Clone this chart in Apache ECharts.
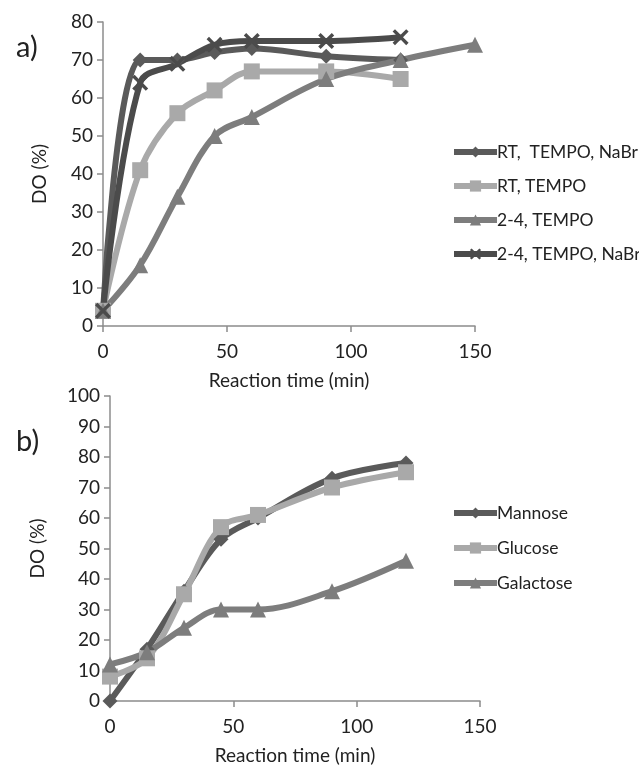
<!DOCTYPE html>
<html><head><meta charset="utf-8">
<script src="https://cdn.jsdelivr.net/npm/echarts@6/dist/echarts.min.js"></script>
<style>html,body{margin:0;padding:0;background:#fff}#c{width:639px;height:766px}</style>
</head><body><div id="c"></div>
<script>
// Chart a
const timeA = [0, 15, 30, 45, 60, 90, 120, 150];
const rtTempoNaBr = [4, 70, 70, 72, 73, 71, 70, null];
const rtTempo = [4, 41, 56, 62, 67, 67, 65, null];
const lowTempo = [4, 16, 34, 50, 55, 65, 70, 74];
const lowTempoNaBr = [4, 64, 69, 74, 75, 75, 76, null];
const namesA = ['RT,  TEMPO, NaBr', 'RT, TEMPO', '2-4, TEMPO', '2-4, TEMPO, NaBr'];
// Chart b
const timeB = [0, 15, 30, 45, 60, 90, 120];
const mannose = [0, 17, 36, 53, 60, 73, 78];
const glucose = [8, 14, 35, 57, 61, 70, 75];
const galactose = [12, 16, 24, 30, 30, 36, 46];
const namesB = ['Mannose', 'Glucose', 'Galactose'];

const cDark = '#5a5a5a', cDarker = '#4b4b4b', cLight = '#a9a9a9', cMid = '#7d7d7d';
const xSym = 'path://M0,1.5L1.5,0L5,3.5L8.5,0L10,1.5L6.5,5L10,8.5L8.5,10L5,6.5L1.5,10L0,8.5L3.5,5Z';
const font = 'Lato';

function pairs(xs, ys) { return xs.map((x, i) => [x, ys[i]]).filter(p => p[1] != null); }
function ser(name, xs, ys, color, symbol, size, idx) {
  return {
    name, type: 'line', xAxisIndex: idx, yAxisIndex: idx,
    data: pairs(xs, ys), smooth: 0.35, symbol, symbolSize: size,
    lineStyle: { color, width: 6 }, itemStyle: { color, borderWidth: 0 },
    emphasis: { disabled: true }
  };
}
function axis(extra) {
  return Object.assign({
    type: 'value',
    axisLine: { show: true, lineStyle: { color: '#8c8c8c', width: 1.5 } },
    axisTick: { show: true, inside: false, length: 6, lineStyle: { color: '#8c8c8c', width: 1.5 } },
    splitLine: { show: false },
    nameLocation: 'middle',
    nameTextStyle: { color: '#222', fontSize: 19, fontFamily: font }
  }, extra);
}
const labX = { color: '#222', fontSize: 19, fontFamily: font, margin: 16 };
const labY = { color: '#222', fontSize: 19, fontFamily: font, margin: 10 };
const chart = echarts.init(document.getElementById('c'), null, { renderer: 'canvas' });
chart.setOption({
  animation: false,
  backgroundColor: '#fff',
  textStyle: { fontFamily: font },
  title: [
    { text: 'a)', left: 11, top: 28, textStyle: { fontSize: 29, fontWeight: 'normal', color: '#222', fontFamily: font } },
    { text: 'b)', left: 11, top: 422, textStyle: { fontSize: 29, fontWeight: 'normal', color: '#222', fontFamily: font } }
  ],
  grid: [
    { left: 103, top: 22, right: 164, bottom: 440 },
    { left: 110, top: 396, right: 159, bottom: 62 }
  ],
  xAxis: [
    axis({ gridIndex: 0, min: 0, max: 150, interval: 50, axisLabel: labX,
      name: 'Reaction time (min)', nameGap: 45 }),
    axis({ gridIndex: 1, min: 0, max: 150, interval: 50, axisLabel: labX,
      name: 'Reaction time (min)', nameGap: 45 })
  ],
  yAxis: [
    axis({ gridIndex: 0, min: 0, max: 80, interval: 10, axisLabel: labY,
      name: 'DO (%)', nameGap: 54 }),
    axis({ gridIndex: 1, min: 0, max: 100, interval: 10, axisLabel: labY,
      name: 'DO (%)', nameGap: 63 })
  ],
  legend: [
    { data: namesA, orient: 'vertical', left: 446, top: 138, itemGap: 16, itemWidth: 43, itemHeight: 14,
      lineStyle: { width: 6 },
      textStyle: { fontSize: 17.5, color: '#222', fontFamily: font, padding: [0, 0, 0, -5] } },
    { data: namesB, orient: 'vertical', left: 446, top: 499, itemGap: 17, itemWidth: 43, itemHeight: 14,
      lineStyle: { width: 6 },
      textStyle: { fontSize: 17.5, color: '#222', fontFamily: font, padding: [0, 0, 0, -5] } }
  ],
  series: [
    ser(namesA[0], timeA, rtTempoNaBr, cDark, 'diamond', 15, 0),
    ser(namesA[1], timeA, rtTempo, cLight, 'rect', 16, 0),
    ser(namesA[2], timeA, lowTempo, cMid, 'triangle', 16, 0),
    ser(namesA[3], timeA, lowTempoNaBr, cDarker, xSym, 16, 0),
    ser(namesB[0], timeB, mannose, cDark, 'diamond', 15, 1),
    ser(namesB[1], timeB, glucose, cLight, 'rect', 16, 1),
    ser(namesB[2], timeB, galactose, cMid, 'triangle', 16, 1)
  ]
});
</script></body></html>
